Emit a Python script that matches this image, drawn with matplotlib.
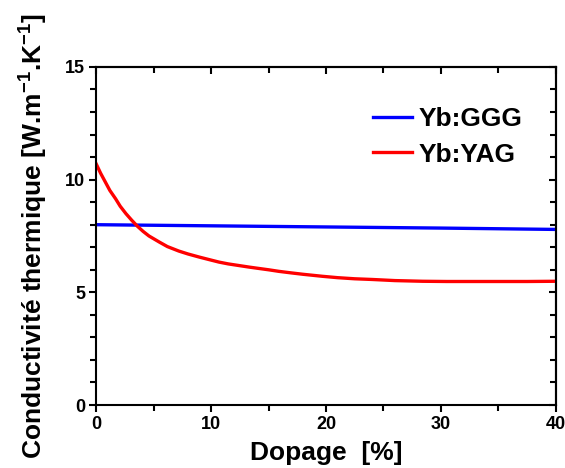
import matplotlib
matplotlib.use('Agg')
import matplotlib.pyplot as plt
from matplotlib.ticker import MultipleLocator

# data
ggg_x = [0, 10, 20, 30, 40]
ggg_y = [8.0, 7.95, 7.9, 7.85, 7.79]
yag_x = [0, 0.4, 0.8, 1.2, 1.7, 2.1, 2.6, 3.1, 3.6, 4.1, 4.6, 5.5, 6.2, 7.2, 8.0, 9.0,
         10.0, 10.7, 11.5, 12.4, 13.3, 14.0, 15.0, 15.9, 17.0, 18.0, 19.7, 21.0, 22.5,
         24.0, 26.0, 28.4, 30.5, 32.8, 35.0, 37.5, 40.0]
yag_y = [10.71, 10.28, 9.9, 9.52, 9.15, 8.82, 8.49, 8.2, 7.93, 7.7, 7.5, 7.23, 7.03, 6.83,
         6.7, 6.56, 6.43, 6.34, 6.26, 6.19, 6.12, 6.07, 6.0, 5.93, 5.86, 5.8, 5.71, 5.65,
         5.6, 5.57, 5.52, 5.49, 5.48, 5.48, 5.48, 5.48, 5.49]

plt.rcParams['font.family'] = 'Liberation Sans'
plt.rcParams['font.weight'] = 'bold'
plt.rcParams['mathtext.fontset'] = 'custom'
plt.rcParams['mathtext.rm'] = 'Liberation Sans:bold'
plt.rcParams['mathtext.default'] = 'rm'

fig = plt.figure(figsize=(5.65, 4.68), dpi=100)
ax = fig.add_axes([0.170, 0.1346, 0.814, 0.7224])

ax.plot(ggg_x, ggg_y, color='#0000ff', lw=2.4, label='Yb:GGG')
ax.plot(yag_x, yag_y, color='#ff0000', lw=2.4, label='Yb:YAG')

ax.set_xlim(0, 40)
ax.set_ylim(0, 15)
ax.xaxis.set_major_locator(MultipleLocator(10))
ax.xaxis.set_minor_locator(MultipleLocator(5))
ax.yaxis.set_major_locator(MultipleLocator(5))
ax.yaxis.set_minor_locator(MultipleLocator(1))

for s in ax.spines.values():
    s.set_linewidth(1.5)
ax.tick_params(which='both', direction='out', width=1.5, labelsize=13, top=False, right=False)
ax.tick_params(which='major', length=5)
ax.tick_params(which='minor', length=4)
ax.tick_params(axis='x', pad=3)
ax.tick_params(axis='y', pad=3)

# inward ticks on top/right
top = ax.secondary_xaxis('top')
top.xaxis.set_major_locator(MultipleLocator(10))
top.xaxis.set_minor_locator(MultipleLocator(5))
top.tick_params(which='both', direction='in', width=1.5, labeltop=False)
top.tick_params(which='major', length=5)
top.tick_params(which='minor', length=4)
right = ax.secondary_yaxis('right')
right.yaxis.set_major_locator(MultipleLocator(5))
right.yaxis.set_minor_locator(MultipleLocator(1))
right.tick_params(which='both', direction='in', width=1.5, labelright=False)
right.tick_params(which='major', length=5)
right.tick_params(which='minor', length=4)
for sa in (top, right):
    for s in sa.spines.values():
        s.set_linewidth(1.5)

ax.set_xlabel('Dopage  [%]', fontsize=19, fontweight='bold', labelpad=6)
ax.set_ylabel('Conductivité thermique [W.m$^{-1}$.K$^{-1}$]', fontsize=19,
              fontweight='bold', labelpad=11)

ax.legend(loc='upper left', frameon=False, fontsize=19, handlelength=1.48,
          handletextpad=0.25, labelspacing=0.42, borderpad=0, borderaxespad=0,
          bbox_to_anchor=(0.602, 0.88))

fig.savefig('out.png', dpi=100)
